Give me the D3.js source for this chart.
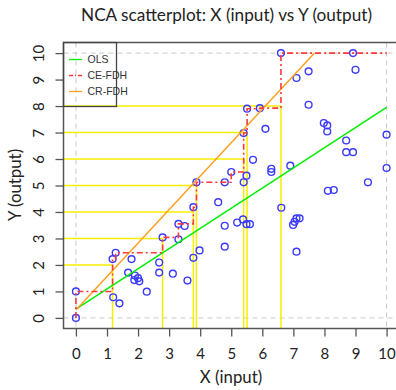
<!DOCTYPE html>
<html>
<head>
<meta charset="utf-8">
<script src="https://cdn.jsdelivr.net/npm/d3@7"></script>
<style>
  body { margin: 0; background: #fff; }
  svg { display: block; }
</style>
</head>
<body>
<div class="container"></div>
<script>
// Data
const xValues = [0, 0, 1.2, 1.4, 1.18, 1.28, 1.79, 1.68, 1.9, 2.0, 1.88, 2.04, 2.28, 2.68, 3.12, 3.59,
  2.68, 2.79, 3.3, 3.3, 3.5, 3.78, 3.98, 3.78, 3.88, 4.58, 4.79, 4.79, 4.79, 5.0, 5.19, 5.38, 5.49,
  5.6, 5.4, 5.49, 5.7, 5.4, 5.51, 5.92, 6.1, 6.29, 6.29, 6.6, 6.61, 6.9, 7.1, 7.49, 7.49, 7.98,
  8.09, 8.09, 8.7, 8.7, 8.92, 10.0, 10.0, 9.4, 8.92, 9.0, 8.11, 8.3, 7.1, 7.2, 6.99, 7.04, 7.1];
const yValues = [0, 1, 0.78, 0.55, 2.22, 2.46, 2.22, 1.71, 1.6, 1.5, 1.43, 1.38, 0.99, 1.71, 1.67, 1.41,
  2.09, 3.04, 2.97, 3.55, 3.47, 2.27, 2.55, 4.18, 5.12, 4.37, 3.48, 2.69, 5.12, 5.51, 3.6, 3.72, 3.54,
  3.54, 5.12, 5.37, 5.97, 6.98, 7.9, 7.92, 7.14, 5.63, 5.51, 10, 4.16, 5.75, 9.06, 9.31, 8.05, 7.36,
  7.27, 7.04, 6.7, 6.26, 6.26, 6.92, 5.66, 5.12, 10.0, 9.37, 4.8, 4.83, 3.76, 3.76, 3.51, 3.63, 2.5];

const scopeX = [0, 10];
const scopeY = [0, 10];
const ticks = [0, 1, 2, 3, 4, 5, 6, 7, 8, 9, 10];

// OLS and CR-FDH lines, as endpoints
const olsX = [0, 10];
const olsY = [0.33, 7.95];
const crX = [0, 7.68];
const crY = [0.3, 10];

// levels with bottleneck lines
const bottleneckLevels = [2, 3, 4, 5, 6, 7, 8];

const legendNames = ['OLS', 'CE-FDH', 'CR-FDH'];
const legendColors = ['#00ee00', '#ff3838', '#ffa020'];

// Constants
const width = 396;
const height = 390;
const plotLeft = 63.5;
const plotRight = 399;
const plotTop = 42.5;
const plotBottom = 328.5;

const points = xValues.map((x, i) => ({ x: x, y: yValues[i] }));

const x = d3.scaleLinear().domain([-0.4, 10.4]).range([plotLeft, plotRight]);
const y = d3.scaleLinear().domain([-0.4, 10.4]).range([plotBottom, plotTop]);

const svg = d3
  .select('.container')
  .append('svg')
  .attr('width', width)
  .attr('height', height);

// Title
svg
  .append('text')
  .attr('x', 226.5)
  .attr('y', 21)
  .attr('text-anchor', 'middle')
  .style('font-family', 'Lato, sans-serif')
  .style('font-size', '17.2px')
  .attr('fill', '#222')
  .text('NCA scatterplot: X (input) vs Y (output)');

// Scope lines (grey dashed)
const grid = svg.append('g').attr('stroke', '#c8c8c8').attr('stroke-dasharray', '5,4').attr('stroke-width', 1);
scopeX.forEach((v) => {
  grid.append('line').attr('x1', x(v)).attr('x2', x(v)).attr('y1', plotTop).attr('y2', plotBottom);
});
scopeY.forEach((v) => {
  grid.append('line').attr('x1', plotLeft).attr('x2', plotRight).attr('y1', y(v)).attr('y2', y(v));
});

// CE-FDH step line from the points
const sorted = points.slice().sort((a, b) => a.x - b.x || a.y - b.y);
const cePath = [[sorted[0].x, sorted[0].y]];
let curMax = sorted[0].y;
sorted.forEach((p) => {
  if (p.y > curMax) {
    cePath.push([p.x, curMax]);
    cePath.push([p.x, p.y]);
    curMax = p.y;
  }
});
cePath.push([scopeX[1], curMax]);

// Bottleneck lines (yellow)
const yellow = svg.append('g').attr('stroke', '#f8ee00').attr('stroke-width', 1.5);
bottleneckLevels.forEach((level) => {
  const xNeed = d3.min(points.filter((p) => p.y >= level), (p) => p.x);
  yellow.append('line').attr('x1', plotLeft).attr('x2', x(xNeed)).attr('y1', y(level)).attr('y2', y(level));
  yellow.append('line').attr('x1', x(xNeed)).attr('x2', x(xNeed)).attr('y1', y(level)).attr('y2', plotBottom);
});

// Points
svg
  .append('g')
  .selectAll('circle')
  .data(points)
  .enter()
  .append('circle')
  .attr('cx', (d) => x(d.x))
  .attr('cy', (d) => y(d.y))
  .attr('r', 3.4)
  .attr('fill', 'none')
  .attr('stroke', '#3a3aff')
  .attr('stroke-width', 1.4);

const line = d3.line().x((d) => x(d[0])).y((d) => y(d[1]));

// OLS
svg
  .append('path')
  .attr('d', line(olsX.map((v, i) => [v, olsY[i]])))
  .attr('fill', 'none')
  .attr('stroke', legendColors[0])
  .attr('stroke-width', 1.5);

// CR-FDH
svg
  .append('path')
  .attr('d', line(crX.map((v, i) => [v, crY[i]])))
  .attr('fill', 'none')
  .attr('stroke', legendColors[2])
  .attr('stroke-width', 1.5);

// CE-FDH
svg
  .append('path')
  .attr('d', line(cePath))
  .attr('fill', 'none')
  .attr('stroke', legendColors[1])
  .attr('stroke-width', 1.6)
  .attr('stroke-dasharray', '6,3,2,3');

// Box
svg
  .append('rect')
  .attr('x', plotLeft)
  .attr('y', plotTop)
  .attr('width', plotRight - plotLeft)
  .attr('height', plotBottom - plotTop)
  .attr('fill', 'none')
  .attr('stroke', '#555')
  .attr('stroke-width', 1.5);

// Axes
const xAxis = svg
  .append('g')
  .attr('transform', `translate(0,${plotBottom})`)
  .call(d3.axisBottom(x).tickValues(ticks).tickSize(8).tickPadding(12));
const yAxis = svg
  .append('g')
  .attr('transform', `translate(${plotLeft},0)`)
  .call(d3.axisLeft(y).tickValues(ticks).tickSize(8).tickPadding(7));

[xAxis, yAxis].forEach((a) => {
  a.select('.domain').remove();
  a.selectAll('.tick line').attr('stroke', '#555').attr('stroke-width', 1.3);
  a.selectAll('.tick text')
    .style('font-family', 'Lato, sans-serif')
    .style('font-size', '15px')
    .attr('fill', '#222');
});
yAxis
  .selectAll('.tick text')
  .attr('x', null)
  .attr('dy', null)
  .attr('text-anchor', 'middle')
  .attr('transform', 'translate(-20,0) rotate(-90)');

// Axis titles
svg
  .append('text')
  .attr('x', 231)
  .attr('y', 383)
  .attr('text-anchor', 'middle')
  .style('font-family', 'Lato, sans-serif')
  .style('font-size', '16.8px')
  .attr('fill', '#222')
  .text('X (input)');

svg
  .append('text')
  .attr('transform', 'translate(21,185) rotate(-90)')
  .attr('text-anchor', 'middle')
  .style('font-family', 'Lato, sans-serif')
  .style('font-size', '16.8px')
  .attr('fill', '#222')
  .text('Y (output)');

// Legend
const legend = svg.append('g');
legend
  .append('rect')
  .attr('x', plotLeft)
  .attr('y', plotTop)
  .attr('width', 53)
  .attr('height', 64)
  .attr('fill', 'none')
  .attr('stroke', '#444')
  .attr('stroke-width', 1.3);

legendNames.forEach((name, i) => {
  const ly = 59.5 + i * 16;
  legend
    .append('line')
    .attr('x1', 69)
    .attr('x2', 82)
    .attr('y1', ly)
    .attr('y2', ly)
    .attr('stroke', legendColors[i])
    .attr('stroke-width', 1.3)
    .attr('stroke-dasharray', i === 1 ? '4,2,1,2' : null);
  legend
    .append('text')
    .attr('x', 87.5)
    .attr('y', ly + 3.8)
    .style('font-family', '"Liberation Sans", Arial, sans-serif')
    .style('font-size', '10.5px')
    .attr('fill', '#333')
    .text(name);
});
</script>
</body>
</html>
